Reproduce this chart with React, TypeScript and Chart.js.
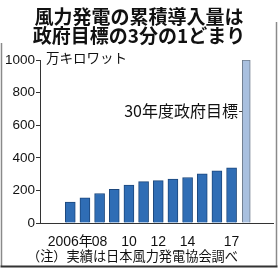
import React, { useEffect, useRef } from "react";
import { Chart, registerables } from "chart.js";

Chart.register(...registerables);

const titleLines = ["風力発電の累積導入量は", "政府目標の3分の1どまり"];
const unitLabel = "万キロワット";
const targetLabel = "30年度政府目標";
const noteText = "（注）実績は日本風力発電協会調べ";

const years = ["2006", "2007", "2008", "2009", "2010", "2011", "2012", "2013", "2014", "2015", "2016", "2017", "2030"];
const actualValues = [128, 155, 181, 206, 232, 254, 260, 270, 279, 301, 320, 338];
const targetValue = 1000;
const xTickIndex = [0, 2, 4, 6, 8, 11];
const xTickLabels = ["2006年", "08", "10", "12", "14", "17"];
const yTicks = [0, 200, 400, 600, 800, 1000];

const SANS = "'Liberation Sans', 'Noto Sans CJK JP', sans-serif";
const CJK = "'Noto Sans CJK JP', sans-serif";

export default function App() {
  const ref = useRef<HTMLCanvasElement | null>(null);

  useEffect(() => {
    document.body.style.margin = "0";
    const canvas = ref.current;
    if (!canvas) return;

    const actualData = actualValues.map((v, i) => ({ x: i, y: v }));
    const targetData = [{ x: years.length - 1, y: targetValue }];

    const overlay = {
      id: "overlay",
      afterDraw(chart: any) {
        const ctx = chart.ctx;
        const ys = chart.scales.y;
        ctx.save();
        // frame
        ctx.strokeStyle = "#8a8a8a";
        ctx.lineWidth = 1.5;
        ctx.beginPath();
        ctx.moveTo(1.5, 43);
        ctx.lineTo(1.5, 266);
        ctx.moveTo(276.5, 22);
        ctx.lineTo(276.5, 266);
        ctx.stroke();
        ctx.strokeStyle = "#333";
        ctx.lineWidth = 2;
        ctx.beginPath();
        ctx.moveTo(0.5, 266.5);
        ctx.lineTo(277.5, 266.5);
        ctx.stroke();

        // title
        ctx.fillStyle = "#111";
        ctx.textAlign = "center";
        ctx.textBaseline = "middle";
        ctx.font = `bold 19px ${CJK}`;
        ctx.fillText(titleLines[0], 139, 17);
        ctx.fillText(titleLines[1], 139, 36);

        // unit
        ctx.textAlign = "left";
        ctx.font = `13.5px ${CJK}`;
        ctx.fillText(unitLabel, 46, ys.getPixelForValue(1000) - 2);

        // target annotation
        const meta = chart.getDatasetMeta(1);
        const bar = meta.data[0];
        const barLeft = bar.x - bar.width / 2;
        const ly = ys.getPixelForValue(690);
        ctx.font = `16px ${CJK}`;
        ctx.textAlign = "right";
        ctx.fillText(targetLabel, 238, ly);
        ctx.strokeStyle = "#444";
        ctx.lineWidth = 1;
        ctx.beginPath();
        ctx.moveTo(239, Math.round(ly) + 0.5);
        ctx.lineTo(barLeft, Math.round(ly) + 0.5);
        ctx.stroke();

        // note
        ctx.textAlign = "left";
        ctx.font = `13.2px ${CJK}`;
        ctx.fillText(noteText, 27, 256);
        ctx.restore();
      },
    };

    const chart = new Chart(canvas, {
      type: "bar",
      data: {
        datasets: [
          {
            data: actualData,
            backgroundColor: "#2f6db5",
            borderColor: "#1c477c",
            borderWidth: 1,
            barThickness: 10,
          },
          {
            data: targetData,
            backgroundColor: "#a9c0df",
            borderColor: "#6f7c8c",
            borderWidth: 1,
            barThickness: 8,
          },
        ],
      } as any,
      options: {
        responsive: false,
        animation: false,
        events: [],
        layout: { padding: { top: 60, left: 0, right: 7, bottom: 0 } },
        plugins: { legend: { display: false }, tooltip: { enabled: false }, title: { display: false } },
        datasets: { bar: { grouped: false } } as any,
        scales: {
          x: {
            type: "linear",
            min: -0.74,
            max: 12.5,
            grid: { display: false },
            border: { display: true, color: "#333", width: 1 },
            afterBuildTicks: (scale: any) => {
              scale.ticks = xTickIndex.map((v) => ({ value: v }));
            },
            afterFit: (scale: any) => {
              scale.height = 45;
            },
            ticks: {
              autoSkip: false,
              maxRotation: 0,
              padding: 3,
              color: "#111",
              font: { family: SANS, size: 14 },
              callback: (value: any) => {
                const k = xTickIndex.indexOf(Number(value));
                return k >= 0 ? xTickLabels[k] : "";
              },
            },
          },
          y: {
            min: 0,
            max: 1000,
            afterBuildTicks: (scale: any) => {
              scale.ticks = yTicks.map((v) => ({ value: v }));
            },
            afterFit: (scale: any) => {
              scale.width = 40;
            },
            grid: { display: true, drawOnChartArea: false, tickLength: 4, color: "#333" },
            border: { display: true, color: "#333", width: 1 },
            ticks: {
              padding: 1,
              color: "#111",
              font: { family: SANS, size: 13.5 },
              callback: (value: any) => String(value),
            },
          },
        },
      },
      plugins: [overlay],
    });

    return () => chart.destroy();
  }, []);

  return (
    <div style={{ width: 280, height: 268 }}>
      <canvas ref={ref} width={280} height={268} style={{ display: "block" }} />
    </div>
  );
}
